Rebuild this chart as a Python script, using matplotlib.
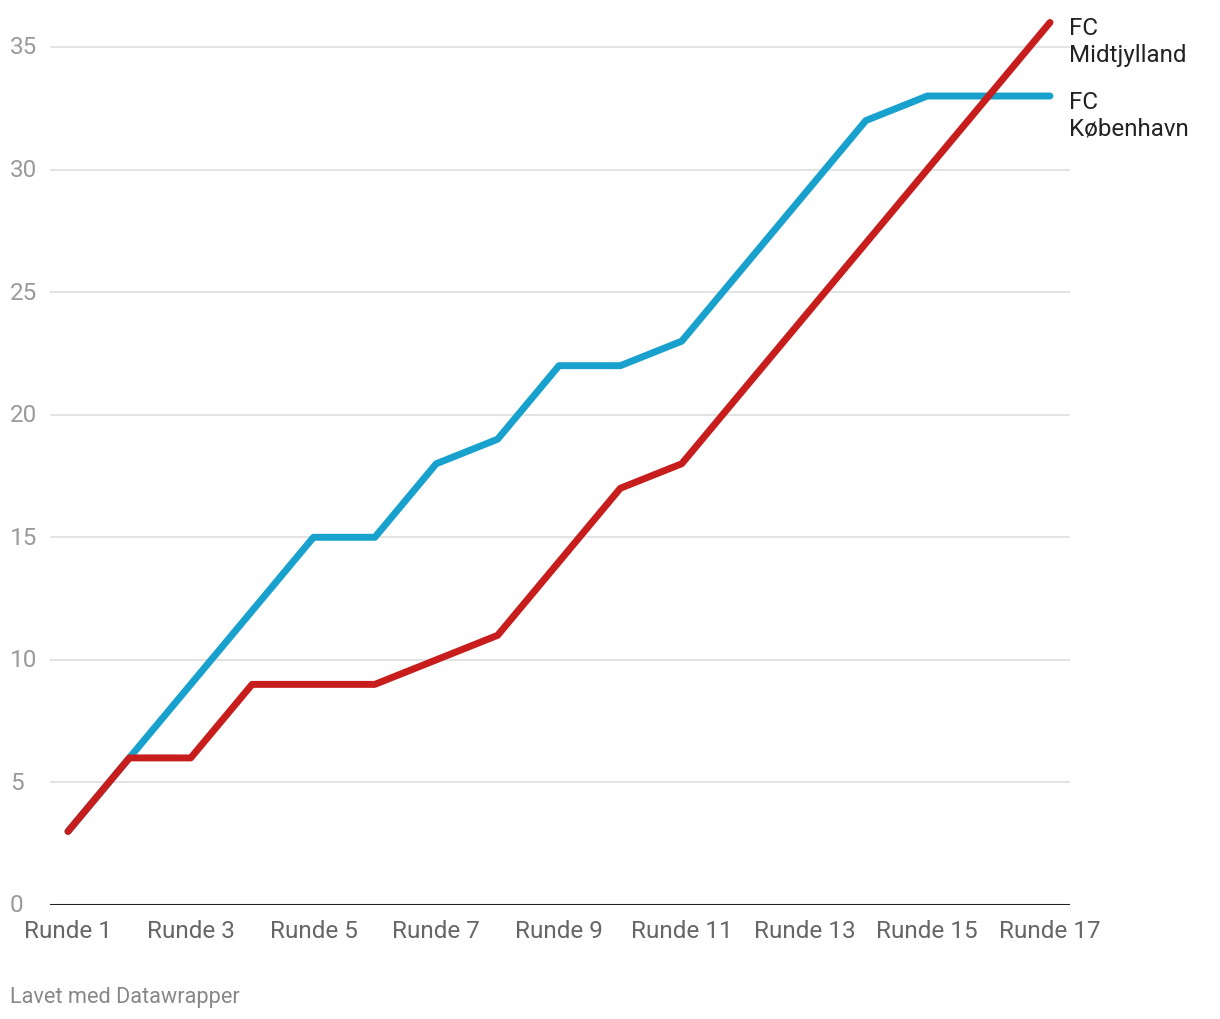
import matplotlib.pyplot as plt

plt.rcParams['font.family'] = ['Roboto', 'DejaVu Sans']

rounds = list(range(1, 18))
kobenhavn = [3, 6, 9, 12, 15, 15, 18, 19, 22, 22, 23, 26, 29, 32, 33, 33, 33]
midtjylland = [3, 6, 6, 9, 9, 9, 10, 11, 14, 17, 18, 21, 24, 27, 30, 33, 36]
tick_rounds = [1, 3, 5, 7, 9, 11, 13, 15, 17]
tick_labels = [f"Runde {r}" for r in tick_rounds]
y_ticks = [0, 5, 10, 15, 20, 25, 30, 35]

BLUE = "#18a1cd"
RED = "#c71e1d"

fig = plt.figure(figsize=(12.2, 10.2), dpi=100)
ax = fig.add_axes([50 / 1220, 114 / 1020, 1020 / 1220, 884 / 1020])

ax.plot(rounds, kobenhavn, color=BLUE, lw=5, solid_capstyle="round",
        solid_joinstyle="round", clip_on=False, zorder=3)
ax.plot(rounds, midtjylland, color=RED, lw=5, solid_capstyle="round",
        solid_joinstyle="round", clip_on=False, zorder=4)

ax.set_xlim(0.707, 17.326)
ax.set_ylim(0, 36.06)

for y in y_ticks[1:]:
    ax.axhline(y, color="#e3e3e3", lw=1.4, zorder=1)
ax.axhline(0, color="#222222", lw=2.2, zorder=2)

ax.set_xticks(tick_rounds)
ax.set_xticklabels(tick_labels, fontsize=17.5, color="#666666")
ax.tick_params(axis="x", length=0, pad=10)
ax.set_yticks([])

for y in y_ticks:
    ax.annotate(str(y), xy=(0, y), xycoords=("figure pixels", "data"),
                xytext=(10, 0), textcoords="offset pixels",
                ha="left", va="center", fontsize=17.5, color="#9a9a9a")

for spine in ax.spines.values():
    spine.set_visible(False)

ax.annotate("FC\nMidtjylland", xy=(17, midtjylland[-1]), xytext=(19, 6),
            textcoords="offset pixels", ha="left", va="top", fontsize=17.4,
            color="#222222", linespacing=1.22, annotation_clip=False)
ax.annotate("FC\nKøbenhavn", xy=(17, kobenhavn[-1]), xytext=(19, 6),
            textcoords="offset pixels", ha="left", va="top", fontsize=17.4,
            color="#222222", linespacing=1.22, annotation_clip=False)

fig.text(10 / 1220, 1 - 998 / 1020, "Lavet med Datawrapper", ha="left",
         va="center", fontsize=15.7, color="#888888")

fig.savefig("out.png", dpi=100)
